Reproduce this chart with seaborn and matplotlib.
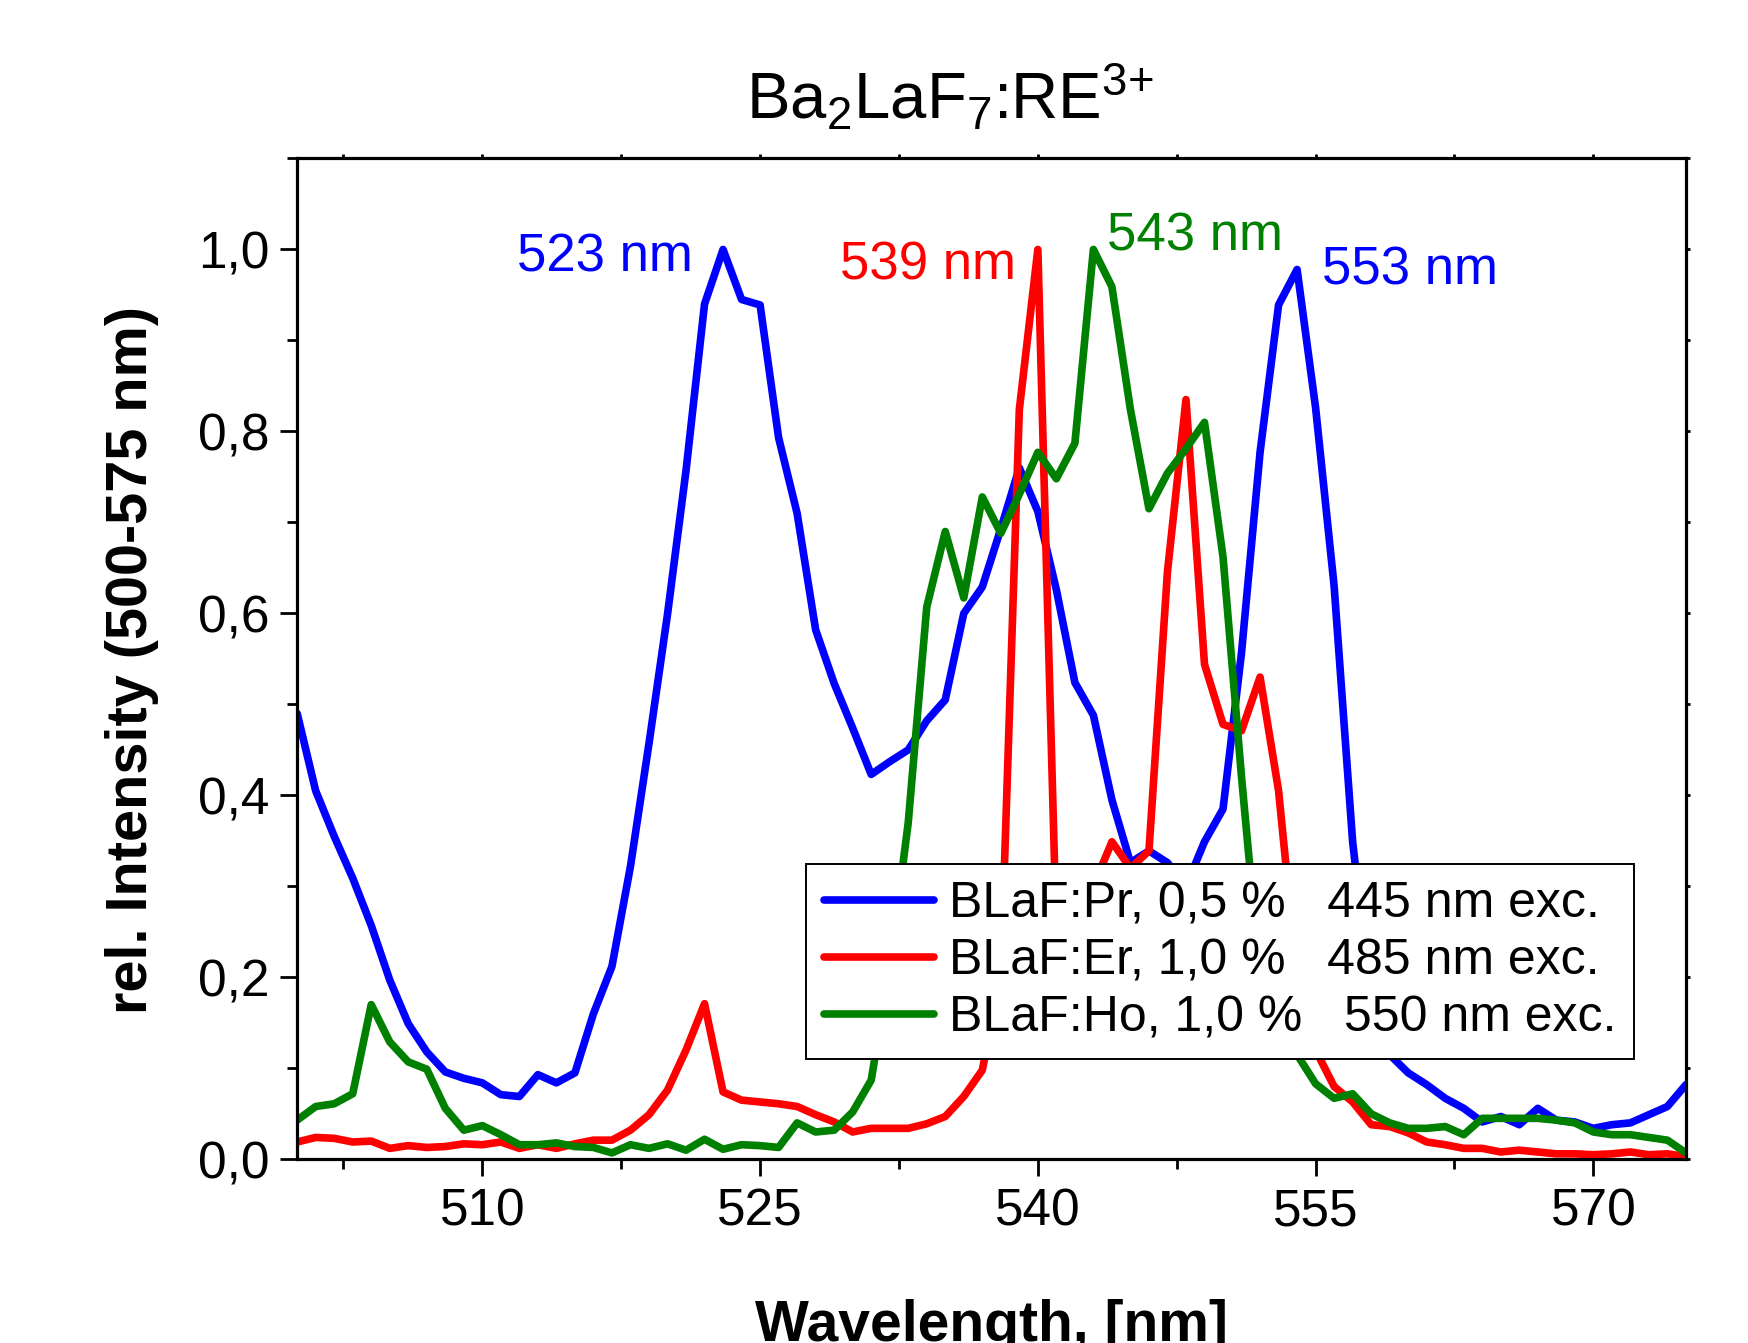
import numpy as np
import pandas as pd
import matplotlib
matplotlib.use('Agg')
import matplotlib.pyplot as plt
from matplotlib.ticker import MultipleLocator, FuncFormatter
import seaborn as sns

sns.set_theme(style='ticks')
plt.rcParams['font.family'] = ['Liberation Sans', 'DejaVu Sans']
plt.rcParams['mathtext.default'] = 'regular'
for k in ['text.color', 'axes.labelcolor', 'xtick.color', 'ytick.color', 'axes.edgecolor']:
    plt.rcParams[k] = 'black'

# wavelength grid, 1 nm steps
wavelength = np.arange(500, 576)

pr_445 = [0.490, 0.405, 0.355, 0.309, 0.257, 0.197, 0.149, 0.118, 0.096, 0.089,
          0.084, 0.071, 0.069, 0.093, 0.084, 0.095, 0.160, 0.212, 0.322, 0.457,
          0.599, 0.757, 0.940, 1.000, 0.945, 0.939, 0.793, 0.710, 0.582, 0.523,
          0.474, 0.423, 0.437, 0.450, 0.482, 0.505, 0.600, 0.629, 0.693, 0.760,
          0.712, 0.626, 0.524, 0.488, 0.395, 0.326, 0.339, 0.326, 0.300, 0.349,
          0.385, 0.557, 0.777, 0.939, 0.978, 0.826, 0.630, 0.349, 0.170, 0.115,
          0.095, 0.082, 0.067, 0.056, 0.041, 0.047, 0.038, 0.056, 0.043, 0.041,
          0.034, 0.038, 0.040, 0.049, 0.058, 0.082]

er_485 = [0.019, 0.024, 0.023, 0.019, 0.020, 0.012, 0.015, 0.013, 0.014, 0.017,
          0.016, 0.019, 0.012, 0.016, 0.012, 0.017, 0.021, 0.021, 0.032, 0.049,
          0.076, 0.120, 0.171, 0.074, 0.065, 0.063, 0.061, 0.058, 0.049, 0.041,
          0.030, 0.034, 0.034, 0.034, 0.039, 0.047, 0.069, 0.098, 0.200, 0.824,
          1.000, 0.250, 0.270, 0.300, 0.349, 0.320, 0.339, 0.646, 0.835, 0.544,
          0.478, 0.471, 0.530, 0.405, 0.200, 0.120, 0.080, 0.063, 0.038, 0.036,
          0.029, 0.019, 0.016, 0.012, 0.012, 0.008, 0.010, 0.008, 0.006, 0.006,
          0.005, 0.006, 0.008, 0.005, 0.006, 0.003]

ho_550 = [0.043, 0.058, 0.061, 0.072, 0.170, 0.129, 0.107, 0.099, 0.056, 0.032,
          0.037, 0.027, 0.016, 0.016, 0.018, 0.014, 0.013, 0.007, 0.016, 0.012,
          0.017, 0.010, 0.022, 0.011, 0.016, 0.015, 0.013, 0.040, 0.030, 0.032,
          0.052, 0.087, 0.210, 0.370, 0.607, 0.690, 0.617, 0.728, 0.688, 0.731,
          0.777, 0.748, 0.787, 1.000, 0.959, 0.824, 0.715, 0.754, 0.781, 0.810,
          0.662, 0.420, 0.200, 0.150, 0.115, 0.083, 0.067, 0.072, 0.050, 0.040,
          0.034, 0.034, 0.036, 0.027, 0.045, 0.045, 0.045, 0.045, 0.043, 0.040,
          0.030, 0.027, 0.027, 0.024, 0.021, 0.007]

labels = ['BLaF:Pr, 0,5 %   445 nm exc.',
          'BLaF:Er, 1,0 %   485 nm exc.',
          'BLaF:Ho, 1,0 %   550 nm exc.']
colors = ['#0000FF', '#FF0000', '#008000']

peak_text = ['523 nm', '539 nm', '543 nm', '553 nm']
peak_pos = [(516.6, 0.976), (534.05, 0.967), (548.5, 0.999), (560.1, 0.962)]
peak_col = ['#0000FF', '#FF0000', '#008000', '#0000FF']

df = pd.concat([
    pd.DataFrame({'wl': wavelength, 'I': vals, 'sample': lab})
    for vals, lab in zip([pr_445, er_485, ho_550], labels)
])

LW = 5.5
fig = plt.figure(figsize=(17.48, 13.43), dpi=100)
ax = fig.add_axes([0.170, 0.1368, 0.7945, 0.7452])

sns.lineplot(data=df, x='wl', y='I', hue='sample', hue_order=labels,
             palette=dict(zip(labels, colors)), linewidth=LW, ax=ax)
for ln in ax.lines:
    ln.set_linewidth(LW)

ax.set_xlim(500, 575)
ax.set_ylim(0, 1.1)
ax.xaxis.set_major_locator(MultipleLocator(15))
ax.xaxis.set_minor_locator(MultipleLocator(7.5))
ax.yaxis.set_major_locator(MultipleLocator(0.2))
ax.yaxis.set_minor_locator(MultipleLocator(0.1))
ax.yaxis.set_major_formatter(FuncFormatter(lambda v, p: f'{v:.1f}'.replace('.', ',')))

for s in ax.spines.values():
    s.set_linewidth(2.3)
    s.set_color('black')
ax.tick_params(which='major', direction='out', length=12, width=2, labelsize=37,
               pad=8, top=True, right=True)
ax.tick_params(which='minor', direction='out', length=7, width=2,
               top=True, right=True)
for t in ax.xaxis.get_ticklines(minor=False)[1::2] + ax.xaxis.get_ticklines(minor=True)[1::2]:
    t.set_markersize(3)
for t in ax.yaxis.get_ticklines(minor=False)[1::2] + ax.yaxis.get_ticklines(minor=True)[1::2]:
    t.set_markersize(3)

ax.set_xlabel('Wavelength, [nm]', fontsize=41, fontweight='bold')
ax.xaxis.set_label_coords(0.5, -0.14)
ax.set_ylabel('rel. Intensity (500-575 nm)', fontsize=41.5, fontweight='bold', va='center')
ax.yaxis.set_label_coords(-0.119, 0.499)

for txt, (x, y), c in zip(peak_text, peak_pos, peak_col):
    ax.text(x, y, txt, color=c, fontsize=38, ha='center', va='baseline')

fig.text(950 / 1748, 1 - 120 / 1343, r'Ba$_2$LaF$_7$:RE$^{3{+}}$', fontsize=47,
         ha='center', va='baseline')

old = ax.get_legend()
handles = old.legend_handles
for h in handles:
    h.set_linewidth(LW)
leg = ax.legend(handles, labels, loc='upper left', bbox_to_anchor=(0.3665, 0.295),
                borderaxespad=0, frameon=True, fancybox=False, framealpha=1,
                edgecolor='black', fontsize=36, handlelength=2.2,
                handletextpad=0.3, labelspacing=0.22, borderpad=0.35)
leg.get_frame().set_linewidth(1.4)

plt.savefig('out.png', dpi=100)
